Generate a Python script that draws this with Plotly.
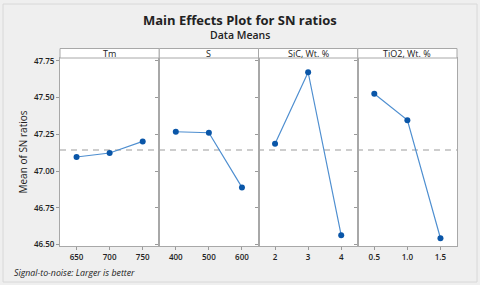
import plotly.graph_objects as go
from plotly.subplots import make_subplots

factors = ["Tm", "S", "SiC, Wt. %", "TiO2, Wt. %"]
levels = [["650", "700", "750"], ["400", "500", "600"], ["2", "3", "4"], ["0.5", "1.0", "1.5"]]
sn_means = [
    [47.096, 47.123, 47.202],
    [47.268, 47.261, 46.889],
    [47.186, 47.673, 46.563],
    [47.526, 47.347, 46.543],
]
overall_mean = 47.143
y_ticks = [46.50, 46.75, 47.00, 47.25, 47.50, 47.75]

fig = make_subplots(rows=1, cols=4, shared_yaxes=True, horizontal_spacing=0)

for i in range(4):
    fig.add_trace(go.Scatter(
        x=levels[i], y=sn_means[i], mode="lines+markers",
        line=dict(color="#4f8fd0", width=1.2),
        marker=dict(color="#0a56a8", size=6),
        showlegend=False, hoverinfo="x+y"), row=1, col=i + 1)
    fig.update_xaxes(type="category", range=[-0.5, 2.5], showgrid=False,
                     showline=True, mirror=True, linecolor="#a8a8a8", linewidth=1,
                     ticks="outside", ticklen=3, tickcolor="#9a9a9a",
                     tickfont=dict(family="Open Sans", size=8, color="#222", weight=600),
                     zeroline=False, fixedrange=True, row=1, col=i + 1)

fig.update_yaxes(range=[46.49, 47.77], tickvals=y_ticks,
                 ticktext=[f"{v:.2f}" for v in y_ticks],
                 showgrid=False, zeroline=False, showline=True, mirror=True,
                 linecolor="#a8a8a8", linewidth=1, ticks="outside", ticklen=3,
                 tickcolor="#9a9a9a", tickfont=dict(family="Open Sans", size=8, color="#222", weight=600),
                 automargin=False)
fig.update_yaxes(title=dict(text="Mean of SN ratios", font=dict(family="Open Sans", size=10, color="#222"), standoff=4),
                 row=1, col=1)

shapes = []
annotations = []
strip_h = 9.5 / 188
for i in range(4):
    xa = fig.layout["xaxis" if i == 0 else f"xaxis{i+1}"]
    d0, d1 = xa.domain
    shapes.append(dict(type="rect", xref="paper", yref="paper", x0=d0, x1=d1,
                       y0=1, y1=1 + strip_h, fillcolor="white",
                       line=dict(color="#a8a8a8", width=1), layer="above"))
    annotations.append(dict(text=factors[i], xref="paper", yref="paper",
                            x=(d0 + d1) / 2, y=1 + strip_h / 2, showarrow=False,
                            xanchor="center", yanchor="middle",
                            font=dict(family="Open Sans", size=9, color="#222")))

shapes.append(dict(type="line", xref="paper", yref="y", x0=0, x1=1,
                   y0=overall_mean, y1=overall_mean,
                   line=dict(color="#bdbdbd", width=1.5, dash="6px,5px"), layer="below"))
shapes.append(dict(type="rect", xref="paper", yref="paper", x0=-57/397, x1=1+20/397,
                   y0=-36/188, y1=1+54/188, line=dict(color="#d8d8d8", width=1),
                   fillcolor="rgba(0,0,0,0)"))

annotations.append(dict(text="<b>Main Effects Plot for SN ratios</b>", xref="paper", yref="paper",
                        x=(240 - 60) / 397, y=1 + (58 - 20.5) / 188, showarrow=False,
                        xanchor="center", yanchor="middle",
                        font=dict(family="Open Sans", size=13, color="#222")))
annotations.append(dict(text="Data Means", xref="paper", yref="paper",
                        x=(240 - 60) / 397, y=1 + (58 - 35.5) / 188, showarrow=False,
                        xanchor="center", yanchor="middle",
                        font=dict(family="Open Sans", size=10.5, color="#222", weight=600)))
annotations.append(dict(text="<i>Signal-to-noise: Larger is better</i>", xref="paper", yref="paper",
                        x=-(60 - 12) / 397, y=-(273 - 246) / 188, showarrow=False,
                        xanchor="left", yanchor="middle",
                        font=dict(family="Open Sans", size=8.8, color="#222")))

fig.update_layout(width=480, height=285,
                  margin=dict(l=60, r=23, t=58, b=39, autoexpand=False),
                  paper_bgcolor="#efefef", plot_bgcolor="white",
                  shapes=shapes, annotations=annotations)

fig.write_html("out.html", config={"displayModeBar": False},
               post_script="document.body.style.margin='0';document.body.style.background='#efefef';")
